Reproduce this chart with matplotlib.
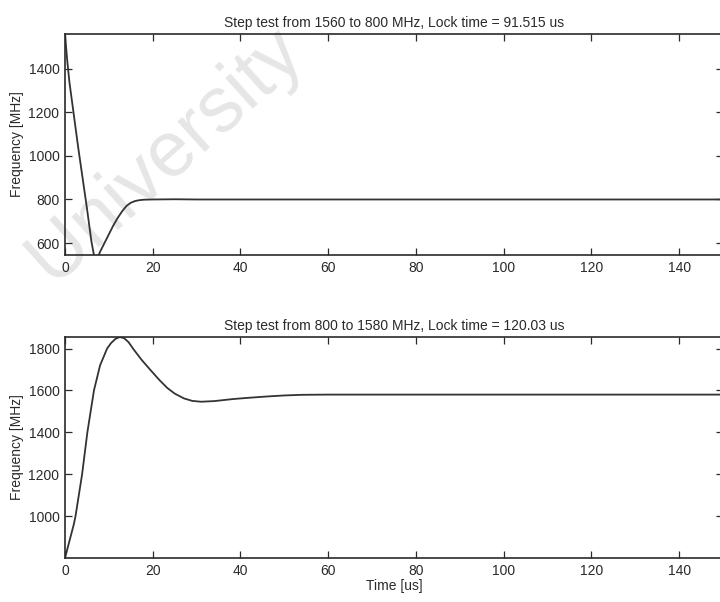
import numpy as np
import matplotlib
matplotlib.use("Agg")
import matplotlib.pyplot as plt

plt.rcParams['font.family'] = ['Liberation Sans', 'DejaVu Sans']

# Step 1: 1560 -> 800 MHz
t_down = [0, 0.5, 1, 2, 3, 4, 5, 6, 6.6, 7.0, 7.5, 8, 9, 10, 11, 12, 13, 14, 15, 16, 17, 18, 20, 25, 30, 40, 60, 80, 100, 120, 150]
f_down = [1560, 1440, 1340, 1190, 1040, 900, 760, 610, 545, 520, 535, 560, 600, 640, 680, 715, 745, 770, 785, 793, 797, 799, 800, 801, 800, 800, 800, 800, 800, 800, 800]

# Step 2: 800 -> 1580 MHz
t_up = [0, 1, 2, 2.4, 3, 3.9, 5.1, 6.6, 8, 9.6, 10.5, 11.5, 12.5, 13.5, 14.5, 15.6, 17.5, 19.5, 21.5, 23.3, 25, 27.1, 29, 31, 34, 38.4, 42, 46, 50, 54, 60, 80, 100, 120, 150]
f_up = [800, 880, 960, 1000, 1080, 1200, 1400, 1600, 1720, 1800, 1826, 1846, 1855, 1849, 1830, 1797, 1745, 1697, 1650, 1612, 1585, 1562, 1550, 1546, 1549, 1559, 1565, 1571, 1576, 1579, 1580, 1580, 1580, 1580, 1580]

titles = ["Step test from 1560 to 800 MHz, Lock time = 91.515 us",
          "Step test from 800 to 1580 MHz, Lock time = 120.03 us"]
yticks_top = [600, 800, 1000, 1200, 1400]
yticks_bot = [1000, 1200, 1400, 1600, 1800]
xticks = [0, 20, 40, 60, 80, 100, 120, 140]

fig = plt.figure(figsize=(7.2, 6.02), dpi=100)
fig.patch.set_facecolor('white')

W, H = 720.0, 602.0
def axes_box(left, top, right, bottom):
    return [left / W, 1 - bottom / H, (right - left) / W, (bottom - top) / H]

# faint diagonal watermark behind the plots
fig.text(52 / W, 1 - 284 / H, "University", fontsize=56, rotation=42,
         rotation_mode='anchor', ha='left', va='baseline',
         color='#e6e6e6', zorder=-1)

ax1 = fig.add_axes(axes_box(65, 34, 723, 255))
ax2 = fig.add_axes(axes_box(65, 337, 723, 558))

def style(ax, yticks):
    ax.set_facecolor('none')
    ax.set_xlim(0, 150)
    ax.set_xticks(xticks)
    ax.set_yticks(yticks)
    ax.tick_params(direction='in', top=True, right=True, length=5, width=0.9,
                   labelsize=10, colors='#2a2a2a', pad=4)
    for s in ax.spines.values():
        s.set_linewidth(1.2)
        s.set_color('#2a2a2a')

ax1.plot(t_down, f_down, color='#333333', lw=1.3)
ax1.set_ylim(545, 1560)
style(ax1, yticks_top)
ax1.set_title(titles[0], fontsize=10, color='#2a2a2a', pad=5)
ax1.set_ylabel("Frequency [MHz]", fontsize=10, color='#2a2a2a', labelpad=3)

ax2.plot(t_up, f_up, color='#333333', lw=1.3)
ax2.set_ylim(800, 1855)
style(ax2, yticks_bot)
ax2.set_title(titles[1], fontsize=10, color='#2a2a2a', pad=5)
ax2.set_ylabel("Frequency [MHz]", fontsize=10, color='#2a2a2a', labelpad=3)
ax2.set_xlabel("Time [us]", fontsize=10, color='#2a2a2a', labelpad=1)

fig.savefig("out.png", dpi=100, facecolor='white')
